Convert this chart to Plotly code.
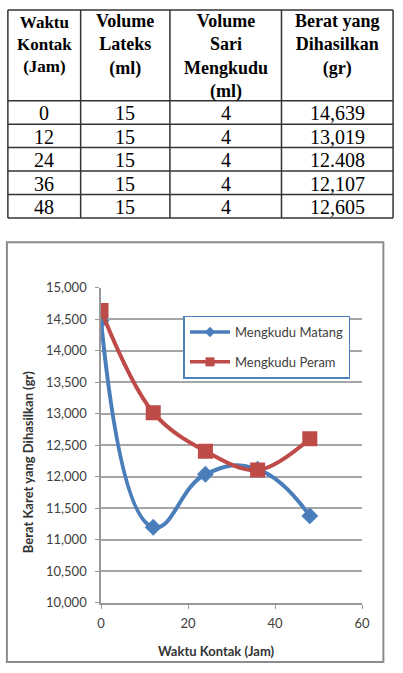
import plotly.graph_objects as go

W, H = 403, 673

# ---- table data ----
hdr_lines = [["Waktu", "Kontak", "(Jam)"],
             ["Volume", "Lateks", "(ml)"],
             ["Volume", "Sari", "Mengkudu", "(ml)"],
             ["Berat yang", "Dihasilkan", "(gr)"]]
col_waktu = ["0", "12", "24", "36", "48"]
col_lateks = ["15", "15", "15", "15", "15"]
col_sari = ["4", "4", "4", "4", "4"]
col_berat = ["14,639", "13,019", "12.408", "12,107", "12,605"]

# ---- chart data ----
waktu = [0, 12, 24, 36, 48]
matang = [14480, 11200, 12040, 12120, 11380]
peram = [14639, 13019, 12408, 12107, 12605]
series_names = ["Mengkudu Matang", "Mengkudu Peram"]


def px_x(p):
    return p / W


def px_y(p):
    return 1 - p / H


# table geometry (pixels)
col_edges = [4, 79, 171, 286, 401]
row_edges = [2, 95, 119, 143, 167, 191, 215]
hdr_size = [17, 18, 18, 18]
hdr_top = 15  # centre of first header line

shapes = []
annotations = []
line_col = "#333"
for xe in col_edges:
    shapes.append(dict(type="line", xref="paper", yref="paper",
                       x0=px_x(xe), x1=px_x(xe), y0=px_y(row_edges[0]), y1=px_y(row_edges[-1]),
                       line=dict(color=line_col, width=1.5)))
for ye in row_edges:
    shapes.append(dict(type="line", xref="paper", yref="paper",
                       x0=px_x(col_edges[0]), x1=px_x(col_edges[-1]), y0=px_y(ye), y1=px_y(ye),
                       line=dict(color=line_col, width=1.5)))

for ci, lines in enumerate(hdr_lines):
    cx = (col_edges[ci] + col_edges[ci + 1]) / 2
    n = len(lines)
    lh = 1.3 * hdr_size[ci]
    cy = hdr_top + (n - 1) * lh / 2
    annotations.append(dict(text="<b>" + "<br>".join(lines) + "</b>", xref="paper", yref="paper",
                            x=px_x(cx), y=px_y(cy), xanchor="center", yanchor="middle",
                            showarrow=False, align="center",
                            font=dict(family="Liberation Serif", size=hdr_size[ci], color="black")))

for ci, col in enumerate([col_waktu, col_lateks, col_sari, col_berat]):
    cx = (col_edges[ci] + col_edges[ci + 1]) / 2
    for ri, t in enumerate(col):
        cy = (row_edges[ri + 1] + row_edges[ri + 2]) / 2 + 1
        annotations.append(dict(text=t, xref="paper", yref="paper",
                                x=px_x(cx), y=px_y(cy), xanchor="center", yanchor="middle",
                                showarrow=False,
                                font=dict(family="Liberation Serif", size=20, color="black")))

BLUE = "#4A7EBB"
RED = "#BE4B48"

fig = go.Figure()

fig.add_trace(go.Scatter(
    x=waktu, y=matang, name=series_names[0], mode="lines+markers", showlegend=False,
    line=dict(color=BLUE, width=4, shape="spline", smoothing=1.3),
    marker=dict(symbol="diamond", size=13, color=BLUE)))
fig.add_trace(go.Scatter(
    x=waktu, y=peram, name=series_names[1], mode="lines+markers", showlegend=False,
    line=dict(color=RED, width=4, shape="spline", smoothing=1.0),
    marker=dict(symbol="square", size=15, color=RED)))
# legend entries (smaller legend symbols, as in the original)
fig.add_trace(go.Scatter(
    x=[None], y=[None], name=series_names[0], mode="lines+markers", legendgroup="a",
    line=dict(color=BLUE, width=3.5), marker=dict(symbol="diamond", size=8, color=BLUE)))
fig.add_trace(go.Scatter(
    x=[None], y=[None], name=series_names[1], mode="lines+markers", legendgroup="b",
    line=dict(color=RED, width=3.5), marker=dict(symbol="square", size=9, color=RED)))

tickfont = dict(family="Lato", size=13, color="#404040")

shapes.append(dict(type="rect", xref="paper", yref="paper",
                   x0=px_x(3), x1=px_x(391), y0=px_y(670), y1=px_y(240),
                   line=dict(color="#8c8c8c", width=2)))

annotations += [
    dict(text="<b>Waktu Kontak (Jam)</b>", xref="paper", yref="paper",
         x=px_x(219), y=px_y(659), xanchor="center", yanchor="middle", showarrow=False,
         font=dict(family="Lato", size=13, color="#333")),
    dict(text="<b>Berat Karet yang Dihasilkan (gr)</b>", xref="paper", yref="paper",
         x=px_x(25), y=px_y(465), xanchor="center", yanchor="middle", showarrow=False, textangle=-90,
         font=dict(family="Lato", size=13, color="#333")),
]

fig.update_layout(
    width=W, height=H, margin=dict(l=0, r=0, t=0, b=0),
    paper_bgcolor="white", plot_bgcolor="white",
    xaxis=dict(domain=[px_x(100), px_x(369)], range=[0, 60], dtick=20,
               showgrid=False, showline=True, linecolor="#999", linewidth=1.5,
               ticks="outside", ticklen=4, tickcolor="#999", tickfont=tickfont,
               zeroline=False, ticklabelstandoff=4),
    yaxis=dict(domain=[px_y(609.3), px_y(286.7)], range=[10000, 15000], dtick=500,
               tickformat=",", showgrid=True, gridcolor="#a6a6a6", gridwidth=1.5,
               showline=True, linecolor="#999", linewidth=1.5,
               ticks="outside", ticklen=4, tickcolor="#999", tickfont=tickfont,
               zeroline=False, ticklabelstandoff=6),
    showlegend=True,
    legend=dict(x=px_x(185), y=px_y(315), xanchor="left", yanchor="top",
                bgcolor="white", bordercolor="#4F81BD", borderwidth=1.5,
                font=dict(family="Lato", size=13, color="#404040"),
                traceorder="grouped", tracegroupgap=10, itemwidth=40),
    shapes=shapes,
    annotations=annotations,
)

fig.write_html("out.html")
